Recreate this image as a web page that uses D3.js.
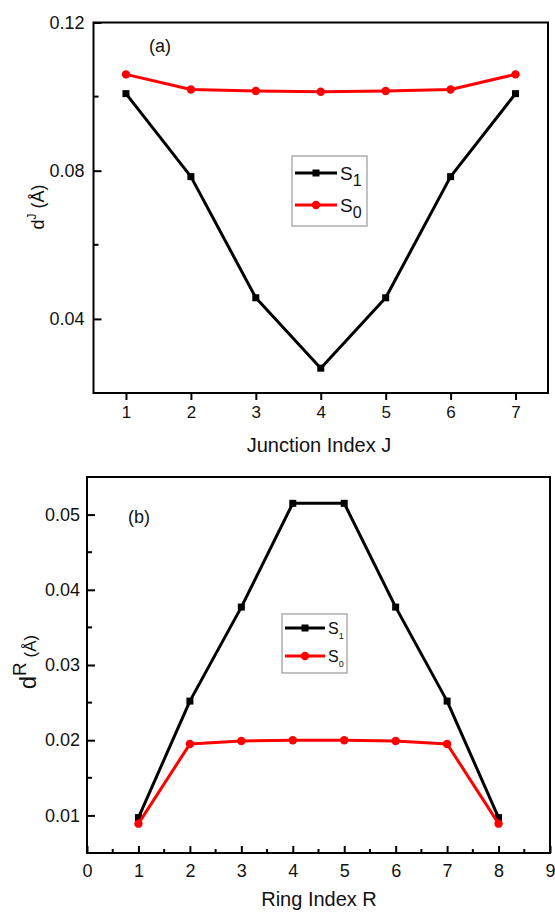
<!DOCTYPE html>
<html lang="en">
<head>
  <meta charset="utf-8">
  <title>Junction and ring distortion</title>
  <style>
    body { margin: 0; background: #fff; }
    svg { display: block; font-family: "Liberation Sans", Arial, sans-serif; }
  </style>
</head>
<body>
  <div id="chart"></div>

  <script src="https://d3js.org/d3.v7.min.js"></script>
  <script>
// panel (a): junction index
const junctionIdx = [1, 2, 3, 4, 5, 6, 7];
const s1Junction = [0.1008, 0.0784, 0.0457, 0.0267, 0.0457, 0.0784, 0.1008];
const s0Junction = [0.1060, 0.1019, 0.1015, 0.1013, 0.1015, 0.1019, 0.1060];
const junctionXTicks = [1, 2, 3, 4, 5, 6, 7];
const junctionYTicks = [0.04, 0.08, 0.12];

// panel (b): ring index
const ringIdx = [1, 2, 3, 4, 5, 6, 7, 8];
const s1Ring = [0.0097, 0.0252, 0.0377, 0.0515, 0.0515, 0.0377, 0.0252, 0.0097];
const s0Ring = [0.0089, 0.0195, 0.0199, 0.0200, 0.0200, 0.0199, 0.0195, 0.0089];
const ringXTicks = [0, 1, 2, 3, 4, 5, 6, 7, 8, 9];
const ringYTicks = [0.01, 0.02, 0.03, 0.04, 0.05];

const W = 555, H = 912;
const FONT = '"Liberation Sans", Arial, sans-serif';

const svg = d3.select("#chart").append("svg")
    .attr("width", W)
    .attr("height", H);

function drawPanel(cfg) {
    const x = d3.scaleLinear().domain(cfg.xDomain).range([cfg.left, cfg.right]);
    const y = d3.scaleLinear().domain(cfg.yDomain).range([cfg.bottom, cfg.top]);
    const g = svg.append("g");

    // x axis (major + minor ticks)
    const xAxis = d3.axisBottom(x)
        .tickValues(cfg.xTicks)
        .tickFormat(d3.format("d"))
        .tickSize(cfg.xTickOut ? 7 : -7)
        .tickPadding(cfg.xPad);
    const gx = g.append("g")
        .attr("transform", `translate(0,${cfg.bottom})`)
        .call(xAxis)
        .attr("font-family", FONT)
        .attr("font-size", cfg.xTickFont);
    gx.select(".domain").remove();
    gx.selectAll("line").attr("stroke", "#000").attr("stroke-width", 2);
    gx.selectAll("text").attr("fill", "#111");

    const xMinor = d3.range(cfg.xDomain[0] + 0.5, cfg.xDomain[1], 1)
        .filter(v => !cfg.xTicks.includes(v));
    g.append("g").selectAll("line")
        .data(xMinor)
        .join("line")
        .attr("x1", d => x(d)).attr("x2", d => x(d))
        .attr("y1", cfg.bottom)
        .attr("y2", cfg.bottom + (cfg.xTickOut ? 4 : -4))
        .attr("stroke", "#000").attr("stroke-width", 2);

    // y axis (ticks inward)
    const yAxis = d3.axisLeft(y)
        .tickValues(cfg.yTicks)
        .tickFormat(d3.format(".2f"))
        .tickSize(-8)
        .tickPadding(cfg.yPad);
    const gy = g.append("g")
        .attr("transform", `translate(${cfg.left},0)`)
        .call(yAxis)
        .attr("font-family", FONT)
        .attr("font-size", cfg.yTickFont);
    gy.select(".domain").remove();
    gy.selectAll("line").attr("stroke", "#000").attr("stroke-width", 2);
    gy.selectAll("text").attr("fill", "#111");

    g.append("g").selectAll("line")
        .data(cfg.yMinor)
        .join("line")
        .attr("x1", cfg.left).attr("x2", cfg.left + 5)
        .attr("y1", d => y(d)).attr("y2", d => y(d))
        .attr("stroke", "#000").attr("stroke-width", 2);

    // frame
    g.append("rect")
        .attr("x", cfg.left).attr("y", cfg.top)
        .attr("width", cfg.right - cfg.left)
        .attr("height", cfg.bottom - cfg.top)
        .attr("fill", "none")
        .attr("stroke", "#000")
        .attr("stroke-width", 2);

    // series
    const line = d3.line().x(d => x(d[0])).y(d => y(d[1]));
    cfg.series.forEach(s => {
        const pts = cfg.xs.map((v, i) => [v, s.values[i]]);
        g.append("path")
            .datum(pts)
            .attr("d", line)
            .attr("fill", "none")
            .attr("stroke", s.color)
            .attr("stroke-width", 3)
            .attr("stroke-linejoin", "round");
        if (s.marker === "square") {
            g.append("g").selectAll("rect")
                .data(pts)
                .join("rect")
                .attr("x", d => x(d[0]) - 3.5)
                .attr("y", d => y(d[1]) - 3.5)
                .attr("width", 7).attr("height", 7)
                .attr("fill", s.color);
        } else {
            g.append("g").selectAll("circle")
                .data(pts)
                .join("circle")
                .attr("cx", d => x(d[0]))
                .attr("cy", d => y(d[1]))
                .attr("r", 4.2)
                .attr("fill", s.color);
        }
    });

    // panel tag
    g.append("text")
        .attr("x", cfg.tag.x).attr("y", cfg.tag.y)
        .style("font-size", "18px")
        .attr("fill", "#111")
        .text(cfg.tag.text);

    // x title
    g.append("text")
        .attr("x", cfg.xTitleX)
        .attr("y", cfg.xTitleY)
        .attr("text-anchor", "middle")
        .style("font-size", cfg.xTitleFont + "px")
        .attr("fill", "#111")
        .text(cfg.xTitle);

    // y title: d^sup (Å)
    const T = cfg.yTitle;
    const yt = g.append("text")
        .attr("transform", `translate(${T.x},${T.y}) rotate(-90)`)
        .attr("text-anchor", "middle")
        .attr("fill", "#111")
        .style("font-size", T.size + "px");
    yt.append("tspan").text("d");
    yt.append("tspan")
        .attr("dy", -T.size * 0.42)
        .style("font-size", T.supSize + "px")
        .text(T.sup);
    yt.append("tspan")
        .attr("dy", T.size * 0.42)
        .style("font-size", T.parenSize + "px")
        .text(" (Å)");

    // legend
    const L = cfg.legend;
    const lg = g.append("g").attr("transform", `translate(${L.x},${L.y})`);
    lg.append("rect")
        .attr("width", L.w).attr("height", L.h)
        .attr("fill", "#fff")
        .attr("stroke", "#999")
        .attr("stroke-width", 1.2);
    cfg.series.forEach((s, i) => {
        const ry = L.rowY[i];
        lg.append("line")
            .attr("x1", 3).attr("x2", L.lineLen + 3)
            .attr("y1", ry).attr("y2", ry)
            .attr("stroke", s.color)
            .attr("stroke-width", 3);
        const cx = 3 + L.lineLen / 2;
        if (s.marker === "square") {
            lg.append("rect")
                .attr("x", cx - 3.5).attr("y", ry - 3.5)
                .attr("width", 7).attr("height", 7)
                .attr("fill", s.color);
        } else {
            lg.append("circle")
                .attr("cx", cx).attr("cy", ry).attr("r", 4.2)
                .attr("fill", s.color);
        }
        const t = lg.append("text")
            .attr("x", L.lineLen + 6)
            .attr("y", ry + L.font * 0.36)
            .attr("fill", "#111")
            .style("font-size", L.font + "px");
        t.append("tspan").text("S");
        t.append("tspan")
            .attr("dy", L.font * 0.3)
            .style("font-size", L.subFont + "px")
            .text(s.sub);
    });
}

drawPanel({
    left: 93.5, right: 548, top: 22.5, bottom: 393,
    xDomain: [0.5, 7.5], yDomain: [0.02, 0.12],
    xs: junctionIdx,
    xTicks: junctionXTicks, yTicks: junctionYTicks,
    yMinor: [0.06, 0.10],
    xTickOut: true, xPad: 6, yPad: 9,
    xTickFont: 17, yTickFont: 18,
    series: [
        { values: s1Junction, color: "#000000", marker: "square", sub: "1" },
        { values: s0Junction, color: "#ff0000", marker: "circle", sub: "0" }
    ],
    tag: { text: "(a)", x: 149, y: 52 },
    xTitle: "Junction Index J", xTitleX: 319, xTitleY: 452, xTitleFont: 20,
    yTitle: { x: 44, y: 207, size: 18, supSize: 12, parenSize: 18, sup: "J" },
    legend: { x: 292, y: 156, w: 75, h: 70, rowY: [17, 49], lineLen: 42, font: 19, subFont: 16 }
});

drawPanel({
    left: 87, right: 550, top: 477, bottom: 853,
    xDomain: [0, 9], yDomain: [0.005, 0.055],
    xs: ringIdx,
    xTicks: ringXTicks, yTicks: ringYTicks,
    yMinor: [0.015, 0.025, 0.035, 0.045],
    xTickOut: false, xPad: 11, yPad: 7,
    xTickFont: 18, yTickFont: 18,
    series: [
        { values: s1Ring, color: "#000000", marker: "square", sub: "1" },
        { values: s0Ring, color: "#ff0000", marker: "circle", sub: "0" }
    ],
    tag: { text: "(b)", x: 128, y: 523 },
    xTitle: "Ring Index R", xTitleX: 319, xTitleY: 906, xTitleFont: 20,
    yTitle: { x: 36, y: 662, size: 24, supSize: 19, parenSize: 17, sup: "R" },
    legend: { x: 282, y: 614, w: 65, h: 59, rowY: [14, 42], lineLen: 40, font: 16, subFont: 9 }
});
  </script>
</body>
</html>
